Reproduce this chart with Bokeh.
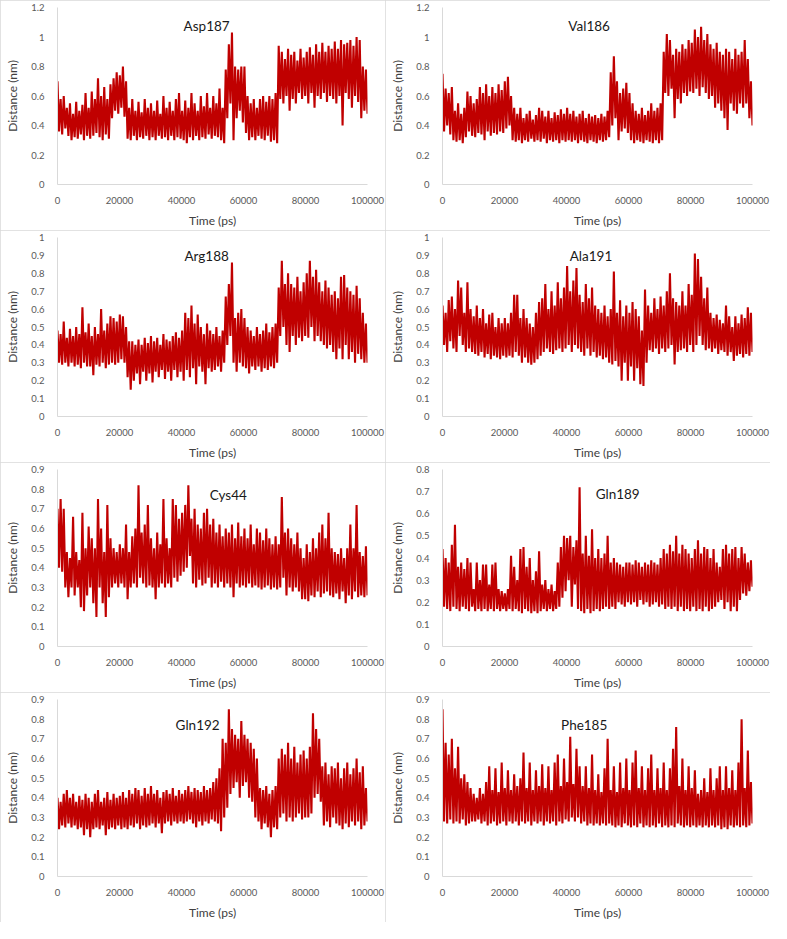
import numpy as np
from bokeh.plotting import figure
from bokeh.layouts import gridplot
from bokeh.models import Range1d, FixedTicker, Label
from bokeh.embed import file_html
from bokeh.resources import INLINE

# ---------------- data ----------------
residues = ["Asp187", "Val186", "Arg188", "Ala191", "Cys44", "Gln189", "Gln192", "Phe185"]

x_ticks = [0, 20000, 40000, 60000, 80000, 100000]
x_tick_labels = ["0", "20000", "40000", "60000", "80000", "100000"]

y_ticks_12 = [0, 0.2, 0.4, 0.6, 0.8, 1.0, 1.2]
y_labels_12 = ["0", "0.2", "0.4", "0.6", "0.8", "1", "1.2"]
y_ticks_10 = [0, 0.1, 0.2, 0.3, 0.4, 0.5, 0.6, 0.7, 0.8, 0.9, 1.0]
y_labels_10 = ["0", "0.1", "0.2", "0.3", "0.4", "0.5", "0.6", "0.7", "0.8", "0.9", "1"]
y_ticks_09 = [0, 0.1, 0.2, 0.3, 0.4, 0.5, 0.6, 0.7, 0.8, 0.9]
y_labels_09 = ["0", "0.1", "0.2", "0.3", "0.4", "0.5", "0.6", "0.7", "0.8", "0.9"]
y_ticks_08 = [0, 0.1, 0.2, 0.3, 0.4, 0.5, 0.6, 0.7, 0.8]
y_labels_08 = ["0", "0.1", "0.2", "0.3", "0.4", "0.5", "0.6", "0.7", "0.8"]

asp187 = [
    0.70, 0.36, 0.58, 0.34, 0.60, 0.38, 0.52, 0.33, 0.55, 0.30, 0.48, 0.32, 0.56, 0.31, 0.50, 0.34, 0.54, 0.30, 0.62, 0.33,
    0.52, 0.31, 0.63, 0.33, 0.58, 0.35, 0.72, 0.32, 0.60, 0.30, 0.66, 0.34, 0.58, 0.31, 0.68, 0.45, 0.72, 0.50, 0.76, 0.48,
    0.74, 0.52, 0.80, 0.46, 0.70, 0.31, 0.52, 0.30, 0.58, 0.33, 0.50, 0.30, 0.56, 0.32, 0.49, 0.31, 0.58, 0.33, 0.52, 0.30,
    0.55, 0.32, 0.50, 0.30, 0.57, 0.33, 0.48, 0.31, 0.60, 0.32, 0.52, 0.30, 0.56, 0.33, 0.50, 0.30, 0.58, 0.32, 0.62, 0.31,
    0.50, 0.30, 0.57, 0.28, 0.52, 0.32, 0.62, 0.30, 0.55, 0.33, 0.50, 0.30, 0.60, 0.32, 0.53, 0.31, 0.62, 0.34, 0.52, 0.31,
    0.60, 0.33, 0.55, 0.32, 0.65, 0.30, 0.52, 0.28, 0.78, 0.45, 0.95, 0.55, 1.03, 0.30, 0.80, 0.45, 0.78, 0.50, 0.80, 0.42,
    0.80, 0.35, 0.60, 0.30, 0.55, 0.32, 0.58, 0.30, 0.52, 0.33, 0.58, 0.31, 0.60, 0.30, 0.56, 0.33, 0.60, 0.29, 0.58, 0.30,
    0.62, 0.28, 0.94, 0.58, 0.90, 0.55, 0.85, 0.60, 0.92, 0.50, 0.88, 0.58, 0.90, 0.55, 0.84, 0.62, 0.92, 0.58, 0.86, 0.60,
    0.90, 0.55, 0.93, 0.62, 0.88, 0.52, 0.95, 0.60, 0.90, 0.58, 0.96, 0.62, 0.90, 0.56, 0.94, 0.60, 0.92, 0.58, 0.97, 0.55,
    0.92, 0.60, 0.98, 0.40, 0.95, 0.62, 0.96, 0.58, 0.98, 0.52, 0.94, 0.60, 1.00, 0.56, 0.98, 0.45, 0.80, 0.50, 0.78, 0.48,
]

val186 = [
    0.75, 0.36, 0.65, 0.40, 0.62, 0.34, 0.66, 0.30, 0.50, 0.29, 0.55, 0.30, 0.48, 0.28, 0.52, 0.32, 0.63, 0.36, 0.60, 0.33,
    0.55, 0.32, 0.58, 0.35, 0.66, 0.34, 0.62, 0.30, 0.68, 0.36, 0.60, 0.33, 0.66, 0.35, 0.62, 0.34, 0.68, 0.36, 0.64, 0.35,
    0.70, 0.38, 0.73, 0.40, 0.60, 0.30, 0.52, 0.29, 0.48, 0.30, 0.52, 0.28, 0.45, 0.30, 0.48, 0.29, 0.50, 0.31, 0.44, 0.29,
    0.47, 0.30, 0.52, 0.29, 0.50, 0.31, 0.46, 0.28, 0.50, 0.30, 0.45, 0.29, 0.49, 0.30, 0.47, 0.28, 0.51, 0.30, 0.48, 0.29,
    0.52, 0.30, 0.48, 0.29, 0.50, 0.30, 0.46, 0.28, 0.48, 0.30, 0.50, 0.29, 0.45, 0.28, 0.48, 0.30, 0.46, 0.29, 0.47, 0.28,
    0.45, 0.30, 0.48, 0.29, 0.46, 0.30, 0.50, 0.32, 0.76, 0.40, 0.87, 0.45, 0.70, 0.30, 0.62, 0.36, 0.65, 0.38, 0.69, 0.35,
    0.62, 0.30, 0.55, 0.28, 0.50, 0.30, 0.48, 0.29, 0.52, 0.28, 0.47, 0.30, 0.50, 0.29, 0.55, 0.28, 0.50, 0.30, 0.52, 0.28,
    0.55, 0.30, 0.90, 0.62, 1.02, 0.60, 0.98, 0.65, 0.88, 0.45, 0.92, 0.58, 0.90, 0.55, 0.95, 0.62, 0.92, 0.60, 0.98, 0.63,
    0.96, 0.62, 1.05, 0.65, 1.00, 0.60, 1.07, 0.66, 0.98, 0.62, 1.02, 0.58, 0.95, 0.60, 0.92, 0.52, 0.96, 0.55, 0.90, 0.50,
    0.88, 0.45, 0.92, 0.37, 0.90, 0.55, 0.85, 0.50, 0.92, 0.48, 0.88, 0.55, 0.90, 0.52, 0.98, 0.55, 0.85, 0.45, 0.70, 0.40,
]

arg188 = [
    0.48, 0.30, 0.46, 0.29, 0.53, 0.30, 0.44, 0.28, 0.49, 0.30, 0.45, 0.28, 0.50, 0.29, 0.46, 0.27, 0.61, 0.30, 0.47, 0.28,
    0.52, 0.28, 0.45, 0.23, 0.50, 0.29, 0.46, 0.28, 0.60, 0.30, 0.48, 0.27, 0.52, 0.29, 0.56, 0.30, 0.55, 0.29, 0.53, 0.30,
    0.57, 0.32, 0.56, 0.30, 0.50, 0.22, 0.42, 0.15, 0.42, 0.20, 0.40, 0.24, 0.43, 0.18, 0.40, 0.25, 0.44, 0.20, 0.41, 0.24,
    0.45, 0.19, 0.42, 0.25, 0.44, 0.22, 0.40, 0.26, 0.46, 0.21, 0.43, 0.25, 0.42, 0.20, 0.45, 0.26, 0.47, 0.22, 0.44, 0.25,
    0.48, 0.20, 0.58, 0.26, 0.55, 0.22, 0.62, 0.27, 0.52, 0.18, 0.57, 0.28, 0.50, 0.25, 0.46, 0.18, 0.52, 0.27, 0.48, 0.25,
    0.46, 0.26, 0.50, 0.28, 0.45, 0.25, 0.48, 0.30, 0.67, 0.40, 0.74, 0.45, 0.86, 0.30, 0.55, 0.25, 0.58, 0.30, 0.60, 0.28,
    0.55, 0.27, 0.50, 0.24, 0.48, 0.28, 0.45, 0.26, 0.50, 0.28, 0.46, 0.25, 0.48, 0.27, 0.52, 0.26, 0.47, 0.28, 0.50, 0.27,
    0.52, 0.30, 0.72, 0.45, 0.87, 0.50, 0.74, 0.40, 0.80, 0.36, 0.74, 0.45, 0.72, 0.40, 0.78, 0.44, 0.70, 0.42, 0.75, 0.45,
    0.80, 0.44, 0.87, 0.50, 0.78, 0.42, 0.82, 0.45, 0.75, 0.42, 0.70, 0.40, 0.76, 0.38, 0.72, 0.40, 0.68, 0.36, 0.70, 0.32,
    0.66, 0.38, 0.78, 0.32, 0.79, 0.40, 0.72, 0.32, 0.70, 0.36, 0.68, 0.30, 0.73, 0.35, 0.66, 0.32, 0.58, 0.30, 0.52, 0.30,
]

ala191 = [
    0.62, 0.40, 0.58, 0.36, 0.65, 0.42, 0.67, 0.38, 0.60, 0.36, 0.76, 0.45, 0.72, 0.40, 0.58, 0.36, 0.75, 0.38, 0.60, 0.36,
    0.56, 0.35, 0.62, 0.34, 0.55, 0.36, 0.60, 0.33, 0.52, 0.35, 0.57, 0.32, 0.58, 0.34, 0.50, 0.33, 0.55, 0.32, 0.52, 0.34,
    0.55, 0.33, 0.52, 0.34, 0.58, 0.33, 0.68, 0.36, 0.68, 0.34, 0.55, 0.30, 0.60, 0.33, 0.55, 0.30, 0.52, 0.29, 0.50, 0.30,
    0.58, 0.32, 0.64, 0.34, 0.66, 0.36, 0.74, 0.38, 0.60, 0.36, 0.70, 0.35, 0.62, 0.37, 0.75, 0.38, 0.66, 0.36, 0.72, 0.38,
    0.84, 0.40, 0.70, 0.36, 0.76, 0.40, 0.83, 0.38, 0.68, 0.36, 0.64, 0.34, 0.74, 0.38, 0.66, 0.34, 0.72, 0.36, 0.62, 0.33,
    0.60, 0.34, 0.58, 0.32, 0.62, 0.33, 0.56, 0.30, 0.60, 0.29, 0.81, 0.31, 0.58, 0.28, 0.65, 0.20, 0.56, 0.30, 0.62, 0.20,
    0.58, 0.28, 0.64, 0.20, 0.60, 0.27, 0.56, 0.18, 0.48, 0.17, 0.71, 0.30, 0.62, 0.37, 0.58, 0.36, 0.66, 0.38, 0.60, 0.35,
    0.67, 0.38, 0.62, 0.36, 0.70, 0.38, 0.80, 0.40, 0.66, 0.29, 0.64, 0.36, 0.62, 0.37, 0.70, 0.38, 0.62, 0.36, 0.74, 0.40,
    0.68, 0.36, 0.91, 0.40, 0.88, 0.45, 0.78, 0.40, 0.66, 0.37, 0.72, 0.38, 0.58, 0.36, 0.55, 0.38, 0.57, 0.35, 0.54, 0.37,
    0.52, 0.36, 0.62, 0.34, 0.56, 0.36, 0.50, 0.31, 0.56, 0.34, 0.52, 0.35, 0.57, 0.33, 0.55, 0.35, 0.61, 0.34, 0.58, 0.36,
]

cys44 = [
    0.70, 0.40, 0.75, 0.38, 0.70, 0.30, 0.48, 0.25, 0.45, 0.30, 0.66, 0.26, 0.48, 0.30, 0.44, 0.20, 0.68, 0.18, 0.50, 0.26,
    0.61, 0.30, 0.55, 0.22, 0.50, 0.15, 0.75, 0.30, 0.60, 0.22, 0.48, 0.15, 0.72, 0.25, 0.55, 0.30, 0.50, 0.32, 0.48, 0.30,
    0.52, 0.32, 0.50, 0.30, 0.62, 0.24, 0.48, 0.30, 0.56, 0.32, 0.60, 0.30, 0.82, 0.35, 0.58, 0.32, 0.62, 0.30, 0.72, 0.31,
    0.55, 0.30, 0.50, 0.24, 0.58, 0.30, 0.52, 0.32, 0.75, 0.30, 0.55, 0.32, 0.50, 0.30, 0.75, 0.35, 0.72, 0.33, 0.65, 0.36,
    0.68, 0.38, 0.72, 0.40, 0.82, 0.46, 0.65, 0.32, 0.70, 0.30, 0.62, 0.34, 0.60, 0.31, 0.68, 0.32, 0.70, 0.35, 0.62, 0.30,
    0.65, 0.32, 0.58, 0.30, 0.62, 0.33, 0.56, 0.30, 0.60, 0.32, 0.58, 0.30, 0.62, 0.25, 0.55, 0.32, 0.63, 0.30, 0.56, 0.31,
    0.60, 0.30, 0.55, 0.32, 0.62, 0.30, 0.52, 0.31, 0.60, 0.30, 0.58, 0.29, 0.54, 0.30, 0.60, 0.31, 0.55, 0.29, 0.52, 0.30,
    0.56, 0.29, 0.52, 0.30, 0.76, 0.35, 0.58, 0.26, 0.60, 0.30, 0.55, 0.28, 0.52, 0.30, 0.58, 0.28, 0.50, 0.24, 0.45, 0.24,
    0.52, 0.23, 0.48, 0.26, 0.55, 0.25, 0.50, 0.28, 0.58, 0.25, 0.62, 0.27, 0.55, 0.28, 0.68, 0.26, 0.50, 0.25, 0.48, 0.27,
    0.47, 0.24, 0.50, 0.28, 0.45, 0.22, 0.50, 0.26, 0.62, 0.24, 0.50, 0.28, 0.72, 0.25, 0.48, 0.26, 0.46, 0.25, 0.51, 0.26,
]

gln189 = [
    0.44, 0.18, 0.40, 0.17, 0.38, 0.16, 0.46, 0.18, 0.55, 0.17, 0.36, 0.16, 0.38, 0.18, 0.35, 0.17, 0.40, 0.16, 0.38, 0.18,
    0.26, 0.16, 0.38, 0.17, 0.30, 0.16, 0.37, 0.17, 0.37, 0.16, 0.28, 0.17, 0.37, 0.16, 0.38, 0.17, 0.26, 0.16, 0.25, 0.17,
    0.24, 0.16, 0.26, 0.17, 0.41, 0.16, 0.36, 0.17, 0.30, 0.16, 0.44, 0.15, 0.45, 0.17, 0.36, 0.16, 0.40, 0.15, 0.30, 0.16,
    0.34, 0.15, 0.43, 0.16, 0.28, 0.17, 0.30, 0.16, 0.26, 0.17, 0.28, 0.16, 0.25, 0.17, 0.38, 0.18, 0.45, 0.22, 0.50, 0.25,
    0.49, 0.30, 0.50, 0.18, 0.45, 0.28, 0.48, 0.17, 0.72, 0.16, 0.42, 0.15, 0.50, 0.17, 0.41, 0.15, 0.53, 0.16, 0.40, 0.17,
    0.44, 0.16, 0.40, 0.17, 0.42, 0.18, 0.50, 0.17, 0.38, 0.18, 0.40, 0.17, 0.38, 0.20, 0.37, 0.19, 0.36, 0.18, 0.38, 0.20,
    0.38, 0.19, 0.37, 0.20, 0.39, 0.18, 0.38, 0.21, 0.36, 0.19, 0.38, 0.20, 0.37, 0.18, 0.39, 0.19, 0.38, 0.20, 0.37, 0.18,
    0.40, 0.19, 0.44, 0.17, 0.42, 0.18, 0.46, 0.17, 0.43, 0.18, 0.50, 0.16, 0.42, 0.18, 0.46, 0.16, 0.44, 0.17, 0.42, 0.16,
    0.40, 0.18, 0.44, 0.16, 0.48, 0.17, 0.42, 0.16, 0.45, 0.18, 0.44, 0.16, 0.40, 0.17, 0.44, 0.18, 0.38, 0.20, 0.36, 0.21,
    0.44, 0.17, 0.46, 0.20, 0.42, 0.16, 0.44, 0.18, 0.45, 0.16, 0.40, 0.21, 0.45, 0.24, 0.42, 0.23, 0.38, 0.25, 0.39, 0.27,
]

gln192 = [
    0.40, 0.24, 0.38, 0.26, 0.42, 0.25, 0.44, 0.27, 0.40, 0.25, 0.42, 0.26, 0.38, 0.24, 0.41, 0.25, 0.39, 0.21, 0.42, 0.24,
    0.40, 0.20, 0.38, 0.24, 0.42, 0.25, 0.44, 0.24, 0.38, 0.26, 0.40, 0.21, 0.43, 0.24, 0.39, 0.25, 0.42, 0.24, 0.40, 0.26,
    0.41, 0.24, 0.43, 0.25, 0.40, 0.24, 0.44, 0.26, 0.42, 0.25, 0.45, 0.27, 0.44, 0.24, 0.41, 0.26, 0.45, 0.25, 0.42, 0.26,
    0.46, 0.27, 0.42, 0.25, 0.44, 0.27, 0.40, 0.22, 0.43, 0.27, 0.44, 0.28, 0.42, 0.26, 0.45, 0.28, 0.41, 0.27, 0.44, 0.28,
    0.42, 0.27, 0.44, 0.28, 0.46, 0.29, 0.43, 0.27, 0.45, 0.25, 0.44, 0.28, 0.43, 0.26, 0.46, 0.28, 0.44, 0.27, 0.45, 0.29,
    0.48, 0.28, 0.50, 0.27, 0.55, 0.23, 0.70, 0.30, 0.68, 0.35, 0.85, 0.42, 0.75, 0.45, 0.72, 0.48, 0.70, 0.40, 0.79, 0.46,
    0.72, 0.48, 0.70, 0.40, 0.68, 0.38, 0.65, 0.30, 0.60, 0.28, 0.45, 0.24, 0.44, 0.27, 0.46, 0.25, 0.42, 0.20, 0.44, 0.25,
    0.46, 0.24, 0.60, 0.30, 0.65, 0.32, 0.62, 0.28, 0.68, 0.30, 0.60, 0.28, 0.66, 0.30, 0.58, 0.32, 0.62, 0.29, 0.64, 0.30,
    0.60, 0.30, 0.66, 0.32, 0.83, 0.40, 0.75, 0.42, 0.70, 0.38, 0.56, 0.26, 0.58, 0.28, 0.52, 0.25, 0.56, 0.30, 0.55, 0.27,
    0.58, 0.26, 0.50, 0.24, 0.55, 0.27, 0.58, 0.25, 0.52, 0.28, 0.55, 0.26, 0.60, 0.28, 0.53, 0.24, 0.56, 0.26, 0.45, 0.28,
]

phe185 = [
    0.85, 0.28, 0.68, 0.27, 0.62, 0.29, 0.70, 0.27, 0.55, 0.28, 0.66, 0.27, 0.50, 0.29, 0.52, 0.26, 0.48, 0.27, 0.45, 0.28,
    0.42, 0.28, 0.40, 0.29, 0.45, 0.27, 0.42, 0.28, 0.48, 0.26, 0.56, 0.27, 0.44, 0.28, 0.55, 0.26, 0.43, 0.27, 0.58, 0.28,
    0.45, 0.26, 0.54, 0.28, 0.44, 0.27, 0.52, 0.28, 0.46, 0.26, 0.50, 0.28, 0.63, 0.27, 0.45, 0.28, 0.58, 0.26, 0.44, 0.28,
    0.54, 0.27, 0.46, 0.28, 0.57, 0.26, 0.45, 0.28, 0.56, 0.27, 0.44, 0.28, 0.58, 0.26, 0.62, 0.28, 0.46, 0.27, 0.60, 0.29,
    0.48, 0.28, 0.71, 0.30, 0.47, 0.28, 0.65, 0.30, 0.56, 0.27, 0.46, 0.28, 0.56, 0.26, 0.45, 0.27, 0.62, 0.26, 0.44, 0.27,
    0.52, 0.26, 0.43, 0.27, 0.55, 0.26, 0.70, 0.27, 0.44, 0.26, 0.56, 0.25, 0.43, 0.26, 0.58, 0.25, 0.45, 0.27, 0.60, 0.26,
    0.44, 0.25, 0.58, 0.26, 0.64, 0.25, 0.45, 0.27, 0.56, 0.25, 0.44, 0.26, 0.55, 0.25, 0.62, 0.26, 0.44, 0.25, 0.55, 0.27,
    0.45, 0.25, 0.58, 0.26, 0.44, 0.25, 0.55, 0.26, 0.65, 0.25, 0.76, 0.27, 0.46, 0.26, 0.60, 0.25, 0.44, 0.26, 0.56, 0.25,
    0.45, 0.26, 0.54, 0.25, 0.42, 0.26, 0.44, 0.25, 0.50, 0.26, 0.43, 0.25, 0.55, 0.26, 0.44, 0.25, 0.50, 0.26, 0.56, 0.24,
    0.44, 0.25, 0.56, 0.24, 0.45, 0.26, 0.54, 0.25, 0.44, 0.26, 0.58, 0.25, 0.80, 0.26, 0.45, 0.25, 0.64, 0.26, 0.48, 0.27,
]

series = [asp187, val186, arg188, ala191, cys44, gln189, gln192, phe185]
y_max = [1.2, 1.2, 1.0, 1.0, 0.9, 0.8, 0.9, 0.9]
y_tick_sets = [(y_ticks_12, y_labels_12), (y_ticks_12, y_labels_12),
               (y_ticks_10, y_labels_10), (y_ticks_10, y_labels_10),
               (y_ticks_09, y_labels_09), (y_ticks_08, y_labels_08),
               (y_ticks_09, y_labels_09), (y_ticks_09, y_labels_09)]
t_start, t_end = 0, 100000

# ---------------- styling / layout ----------------
FONT = "Lato"
LINE_COLOR = "#C00000"
# title anchor (fraction of x range, fraction of y range)
title_pos = [(0.481, 0.897), (0.473, 0.897), (0.481, 0.897), (0.479, 0.897),
             (0.551, 0.857), (0.565, 0.862), (0.452, 0.858), (0.457, 0.858)]
row_heights = [230, 232, 230, 230]

figs = []
for i, (name, vals) in enumerate(zip(residues, series)):
    ymax = y_max[i]
    h = row_heights[i // 2]
    p = figure(width=385, height=h,
               x_range=Range1d(t_start, t_end), y_range=Range1d(0, ymax),
               output_backend="svg", toolbar_location=None,
               min_border_left=57, min_border_right=18,
               min_border_top=7, min_border_bottom=h - 7 - 182)
    t = np.linspace(t_start, t_end, len(vals))
    p.line(t, vals, color=LINE_COLOR, line_width=2.1, line_join="miter")

    p.xgrid.visible = False
    p.ygrid.visible = False
    p.outline_line_color = None
    p.background_fill_color = "white"
    p.border_fill_color = "white"

    yt, yl = y_tick_sets[i]
    p.xaxis.ticker = FixedTicker(ticks=x_ticks)
    p.xaxis.major_label_overrides = {k: v for k, v in zip(x_ticks, x_tick_labels)}
    p.yaxis.ticker = FixedTicker(ticks=yt)
    p.yaxis.major_label_overrides = {k: v for k, v in zip(yt, yl)}

    for ax in (p.xaxis[0], p.yaxis[0]):
        ax.axis_line_color = "#d9d9d9"
        ax.axis_line_width = 1
        ax.major_tick_line_color = None
        ax.minor_tick_line_color = None
        ax.major_label_text_font = FONT
        ax.major_label_text_font_size = "9.5px"
        ax.major_label_text_color = "#595959"
        ax.axis_label_text_font = FONT
        ax.axis_label_text_font_size = "12px"
        ax.axis_label_text_font_style = "normal"
        ax.axis_label_text_color = "#404040"
    p.xaxis.axis_label = "Time (ps)"
    p.yaxis.axis_label = "Distance (nm)"
    p.xaxis.major_label_standoff = 6
    p.xaxis.axis_label_standoff = 6
    p.yaxis.major_label_standoff = 7
    p.yaxis.axis_label_standoff = 8

    fx, fy = title_pos[i]
    p.add_layout(Label(x=t_start + fx * (t_end - t_start), y=fy * ymax, text=name,
                       text_align="center", text_baseline="middle",
                       text_font=FONT, text_font_size="13.5px", text_color="#1a1a1a"))

    p.styles = {"outline": "1px solid #d9d9d9", "outline-offset": "-1px"}
    figs.append(p)

grid = gridplot(figs, ncols=2, toolbar_location=None)

open("out.html", "w").write(file_html(grid, INLINE))
